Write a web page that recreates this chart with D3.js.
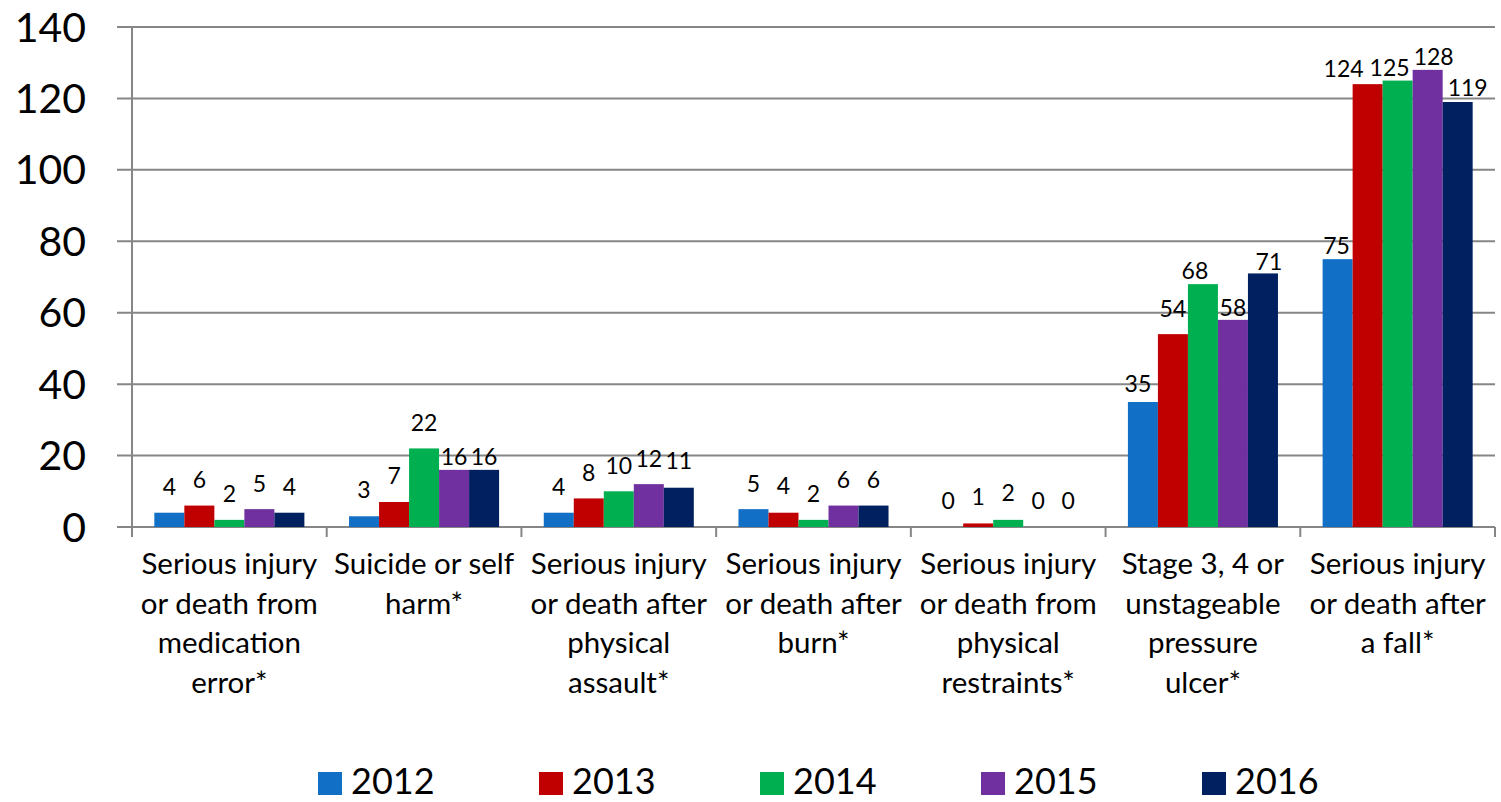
<!DOCTYPE html>
<html>
<head>
<meta charset="utf-8">
<script src="https://cdn.jsdelivr.net/npm/d3@7"></script>
<style>
  html, body { margin: 0; padding: 0; background: #fff; }
  svg text { font-family: Lato, "Open Sans", sans-serif; fill: #000; }
</style>
</head>
<body>
<svg id="chart" width="1501" height="802"></svg>
<script>
// Incident categories (line breaks mark label wrapping)
const categories = [
  "Serious injury\nor death from\nmedication\nerror*",
  "Suicide or self\nharm*",
  "Serious injury\nor death after\nphysical\nassault*",
  "Serious injury\nor death after\nburn*",
  "Serious injury\nor death from\nphysical\nrestraints*",
  "Stage 3, 4 or\nunstageable\npressure\nulcer*",
  "Serious injury\nor death after\na fall*"
];
const years = ["2012", "2013", "2014", "2015", "2016"];

// Counts per year, one entry per category
const values2012 = [4, 3, 4, 5, 0, 35, 75];
const values2013 = [6, 7, 8, 4, 1, 54, 124];
const values2014 = [2, 22, 10, 2, 2, 68, 125];
const values2015 = [5, 16, 12, 6, 0, 58, 128];
const values2016 = [4, 16, 11, 6, 0, 71, 119];
const yTicks = [0, 20, 40, 60, 80, 100, 120, 140];

const seriesValues = [values2012, values2013, values2014, values2015, values2016];
const colors = ["#1170C6", "#C00000", "#00B050", "#7030A0", "#002060"];

// Value-label placement: lift above the bar top and sideways nudge (px),
// per year, per category, so that crowded labels do not collide
const labelGap = [
  [26, 27, 26, 26, 27, 19, 14],
  [26, 27, 26, 27, 27, 26, 16],
  [26, 26, 26, 26, 27, 14, 13],
  [26, 13, 26, 26, 27, 12, 13],
  [26, 13, 27, 26, 27, 12, 15]
];
const labelShift = [
  [0, 0, 0, 0, 0, -5, -1],
  [0, 0, 0, 0, 0, 0, -24],
  [0, 0, 0, 0, 0, -8, -8],
  [0, 0, 0, 0, 0, 0, 6],
  [0, 0, 0, 0, 0, 6, 10]
];

const svg = d3.select("#chart");
const plotLeft = 132, plotRight = 1495, plotTop = 27, plotBottom = 527;

const x = d3.scaleBand().domain(d3.range(categories.length)).range([plotLeft, plotRight]).padding(0);
const bw = x.bandwidth();
const xInner = d3.scaleBand().domain(d3.range(years.length))
  .range([bw * 0.1147, bw * (1 - 0.1147)]).padding(0);
const y = d3.scaleLinear().domain([0, 140]).range([plotBottom, plotTop]);

const gridColor = "#868686";

// Horizontal gridlines with short outward ticks
svg.append("g").selectAll("line").data(yTicks).join("line")
  .attr("x1", plotLeft - 15).attr("x2", plotRight)
  .attr("y1", d => y(d)).attr("y2", d => y(d))
  .attr("stroke", gridColor).attr("stroke-width", 2);

// Y axis line
svg.append("line")
  .attr("x1", plotLeft).attr("x2", plotLeft)
  .attr("y1", plotTop).attr("y2", plotBottom + 10)
  .attr("stroke", gridColor).attr("stroke-width", 2);

// Category tick marks below the baseline
svg.append("g").selectAll("line").data(d3.range(categories.length + 1)).join("line")
  .attr("x1", i => plotLeft + i * bw).attr("x2", i => plotLeft + i * bw)
  .attr("y1", plotBottom).attr("y2", plotBottom + 10)
  .attr("stroke", gridColor).attr("stroke-width", 2);

// Y tick labels
svg.append("g").selectAll("text").data(yTicks).join("text")
  .attr("x", 86).attr("y", d => y(d) + 14.5)
  .attr("text-anchor", "end")
  .style("font-size", "41px")
  .text(d => d);

// Bars and value labels
const groups = svg.append("g").selectAll("g").data(categories).join("g")
  .attr("transform", (d, i) => `translate(${x(i)},0)`);

groups.each(function (c, ci) {
  const g = d3.select(this);
  years.forEach((yr, si) => {
    const v = seriesValues[si][ci];
    g.append("rect")
      .attr("x", xInner(si)).attr("width", xInner.bandwidth())
      .attr("y", y(v)).attr("height", y(0) - y(v))
      .attr("fill", colors[si]);
    g.append("text")
      .attr("x", xInner(si) + xInner.bandwidth() / 2 + labelShift[si][ci])
      .attr("y", y(v) - labelGap[si][ci] + 8.5)
      .attr("text-anchor", "middle")
      .style("font-size", "23px")
      .text(v);
  });
});

// Category labels
svg.append("g").selectAll("text").data(categories).join("text")
  .attr("text-anchor", "middle")
  .style("font-size", "29.5px")
  .each(function (c, i) {
    const t = d3.select(this);
    c.split("\n").forEach((line, li) => {
      t.append("tspan")
        .attr("x", x(i) + bw / 2)
        .attr("y", 574 + li * 39.5)
        .text(line);
    });
  });

// Legend
const legend = svg.append("g").selectAll("g").data(years).join("g")
  .attr("transform", (d, i) => `translate(${318 + i * 221},772)`);
legend.append("rect").attr("width", 24).attr("height", 23).attr("fill", (d, i) => colors[i]);
legend.append("text").attr("x", 33).attr("y", 22)
  .style("font-size", "36px").text(d => d);
</script>
</body>
</html>
